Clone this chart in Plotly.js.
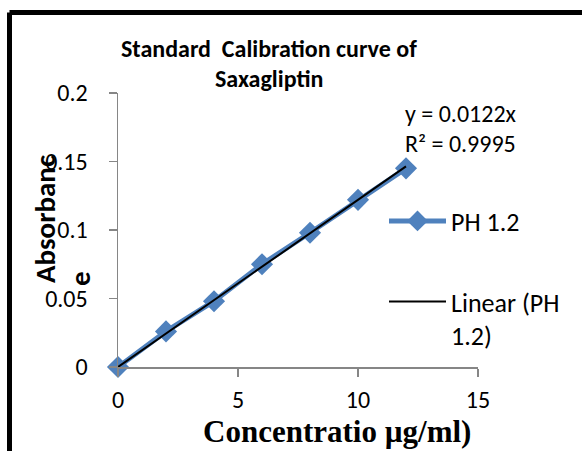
<!DOCTYPE html>
<html>
<head>
<meta charset="utf-8">
<script src="https://cdn.plot.ly/plotly-3.0.1.min.js"></script>
<style>
html,body{margin:0;padding:0;background:#fff;}
#chart{width:582px;height:451px;}
</style>
</head>
<body>
<div id="chart"></div>
<script>
const concentration = [0, 2, 4, 6, 8, 10, 12];
const absorbance = [0, 0.026, 0.048, 0.075, 0.098, 0.122, 0.145];
const trendSlope = 0.0122;
const trendX = [0, 12];
const xTicks = [0, 5, 10, 15];
const yTicks = [0, 0.05, 0.1, 0.15, 0.2];
const yTickLabels = ['0', '0.05', '0.1', '0.15', '0.2'];

const FONT = 'Carlito, Lato, "Noto Sans", sans-serif';
const trendY = trendX.map(x => trendSlope * x);

const data = [
  {
    x: concentration, y: absorbance, type: 'scatter', mode: 'lines+markers',
    name: 'PH 1.2', cliponaxis: false,
    line: {color: '#4F81BD', width: 5},
    marker: {symbol: 'diamond', size: 17, color: '#4F81BD'},
    legend: 'legend'
  },
  {
    x: trendX, y: trendY, type: 'scatter', mode: 'lines',
    name: 'Linear (PH<br>1.2)', cliponaxis: false,
    line: {color: '#000000', width: 2},
    legend: 'legend2'
  }
];

const W = 360, H = 274, L = 118, T = 93;
const px = v => (v - L) / W;
const py = v => (T + H - v) / H;

const layout = {
  width: 582, height: 451,
  margin: {l: L, r: 582 - L - W, t: T, b: 451 - T - H},
  paper_bgcolor: '#ffffff', plot_bgcolor: '#ffffff',
  font: {family: FONT, size: 24, color: '#000'},
  showlegend: true,
  xaxis: {
    range: [0, 15], tickvals: xTicks, ticktext: xTicks.map(String),
    showgrid: false, zeroline: false, showline: true,
    linecolor: '#868686', linewidth: 1.5,
    ticks: 'outside', ticklen: 8, tickcolor: '#868686', tickwidth: 1.5,
    ticklabelstandoff: 3,
    tickfont: {family: FONT, size: 24, color: '#000'}
  },
  yaxis: {
    range: [0, 0.2], tickvals: yTicks, ticktext: yTickLabels,
    showgrid: false, zeroline: false, showline: true,
    linecolor: '#868686', linewidth: 1.5,
    ticks: 'outside', ticklen: 8, tickcolor: '#868686', tickwidth: 1.5,
    ticklabelstandoff: 16,
    tickfont: {family: FONT, size: 24, color: '#000'}
  },
  legend: {
    x: px(384), y: py(221), xanchor: 'left', yanchor: 'middle',
    bgcolor: 'rgba(0,0,0,0)', borderwidth: 0, itemwidth: 57,
    font: {family: FONT, size: 26, color: '#000'}
  },
  legend2: {
    x: px(384), y: py(278), xanchor: 'left', yanchor: 'top',
    bgcolor: 'rgba(0,0,0,0)', borderwidth: 0, itemwidth: 57, valign: 'top',
    font: {family: FONT, size: 26, color: '#000'}
  },
  shapes: [
    {type: 'line', xref: 'paper', yref: 'paper', x0: px(9.5), x1: px(600), y0: py(12.5), y1: py(12.5),
     line: {color: '#000', width: 5}},
    {type: 'line', xref: 'paper', yref: 'paper', x0: px(9.5), x1: px(9.5), y0: py(12.5), y1: py(470),
     line: {color: '#000', width: 5}}
  ],
  annotations: [
    {text: '<b>Standard  Calibration curve of</b>', xref: 'paper', yref: 'paper', x: px(269), y: py(49),
     xanchor: 'center', yanchor: 'middle', showarrow: false, font: {family: FONT, size: 24, color: '#000'}},
    {text: '<b>Saxagliptin</b>', xref: 'paper', yref: 'paper', x: px(269), y: py(78),
     xanchor: 'center', yanchor: 'middle', showarrow: false, font: {family: FONT, size: 24, color: '#000'}},
    {text: 'y = 0.0122x', xref: 'paper', yref: 'paper', x: px(403), y: py(113),
     xanchor: 'left', yanchor: 'middle', showarrow: false, font: {family: FONT, size: 24, color: '#000'}},
    {text: 'R² = 0.9995', xref: 'paper', yref: 'paper', x: px(403), y: py(143),
     xanchor: 'left', yanchor: 'middle', showarrow: false, font: {family: FONT, size: 24, color: '#000'}},
    {text: '<b>Absorbanc</b>', xref: 'paper', yref: 'paper', x: px(45), y: py(219), textangle: -90,
     xanchor: 'center', yanchor: 'middle', showarrow: false, font: {family: FONT, size: 29, color: '#000'}},
    {text: '<b>e</b>', xref: 'paper', yref: 'paper', x: px(80), y: py(279), textangle: -90,
     xanchor: 'center', yanchor: 'middle', showarrow: false, font: {family: FONT, size: 29, color: '#000'}},
    {text: '<b>Concentratio µg/ml)</b>', xref: 'paper', yref: 'paper', x: px(337), y: py(432),
     xanchor: 'center', yanchor: 'middle', showarrow: false,
     font: {family: '"Liberation Serif", "Times New Roman", serif', size: 31, color: '#000'}}
  ]
};

Plotly.newPlot('chart', data, layout, {displayModeBar: false, staticPlot: true});
</script>
</body>
</html>
